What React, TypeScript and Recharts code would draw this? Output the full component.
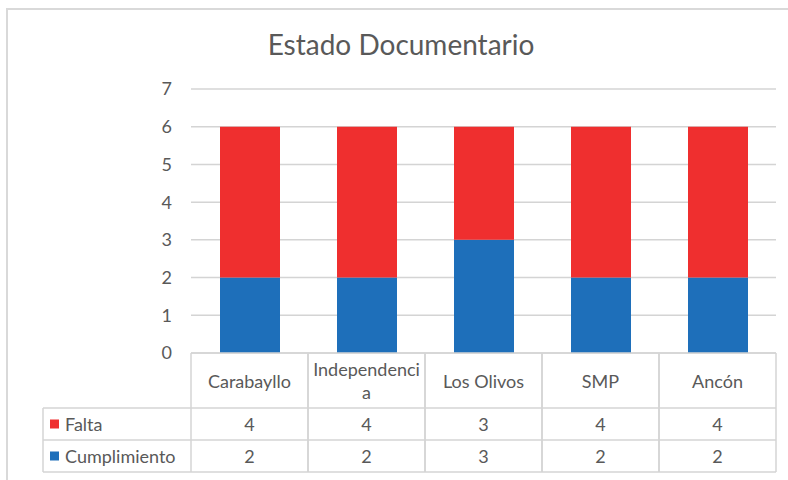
import React from 'react';
import { BarChart, Bar, XAxis, YAxis, CartesianGrid } from 'recharts';

const districts = ['Carabayllo', 'Independencia', 'Los Olivos', 'SMP', 'Ancón'];
const falta = [4, 4, 3, 4, 4];
const cumplimiento = [2, 2, 3, 2, 2];
const yTicks = [0, 1, 2, 3, 4, 5, 6, 7];

const RED = '#EF2F2F';
const BLUE = '#1E6FBA';
const TEXT = '#595959';
const LINE = '#D4D4D4';
const FONT = 'Lato, "Open Sans", sans-serif';

const W = 788;
const H = 480;
const margin = { top: 89, right: 12, left: 151, bottom: 7 };
const yAxisWidth = 40;
const plotLeft = margin.left + yAxisWidth;
const bandWidth = (W - plotLeft - margin.right) / districts.length;

// data table rows below the axis
const headerH = 55;
const rowH = 32;
const labelColLeft = 43;

const data = districts.map((name, i) => ({
  name,
  cumplimiento: cumplimiento[i],
  falta: falta[i],
}));

// excel wraps the long label by characters
function wrapLabel(label: string, max = 12) {
  if (label.length <= max) return [label];
  const out: string[] = [];
  for (let i = 0; i < label.length; i += max) out.push(label.slice(i, i + max));
  return out;
}

function TableTick(props: any) {
  const { x, y, payload, index } = props;
  const left = x - bandWidth / 2;
  const right = x + bandWidth / 2;
  const top = y;
  const r1 = top + headerH;
  const r2 = r1 + rowH;
  const r3 = r2 + rowH;
  const lines = wrapLabel(payload.value);
  const lh = 23;
  const startY = top + headerH / 2 - ((lines.length - 1) * lh) / 2;

  return (
    <g fontFamily={FONT} fontSize={18} fill={TEXT}>
      <line x1={left} x2={right} y1={top} y2={top} stroke={LINE} strokeWidth={1.5} />
      <line x1={left} x2={right} y1={r1} y2={r1} stroke={LINE} strokeWidth={1.5} />
      <line x1={left} x2={right} y1={r2} y2={r2} stroke={LINE} strokeWidth={1.5} />
      <line x1={left} x2={right} y1={r3} y2={r3} stroke={LINE} strokeWidth={1.5} />
      <line x1={left} x2={left} y1={top} y2={r3} stroke={LINE} strokeWidth={1.5} />
      <line x1={right} x2={right} y1={top} y2={r3} stroke={LINE} strokeWidth={1.5} />
      {lines.map((t, i) => (
        <text key={i} x={x} y={startY + i * lh} textAnchor="middle" dominantBaseline="central">
          {t}
        </text>
      ))}
      <text x={x} y={r1 + rowH / 2} textAnchor="middle" dominantBaseline="central">
        {falta[index]}
      </text>
      <text x={x} y={r2 + rowH / 2} textAnchor="middle" dominantBaseline="central">
        {cumplimiento[index]}
      </text>
      {index === 0 && (
        <g>
          <line x1={labelColLeft} x2={left} y1={r1} y2={r1} stroke={LINE} strokeWidth={1.5} />
          <line x1={labelColLeft} x2={left} y1={r2} y2={r2} stroke={LINE} strokeWidth={1.5} />
          <line x1={labelColLeft} x2={left} y1={r3} y2={r3} stroke={LINE} strokeWidth={1.5} />
          <line x1={labelColLeft} x2={labelColLeft} y1={r1} y2={r3} stroke={LINE} strokeWidth={1.5} />
          <rect x={labelColLeft + 7} y={r1 + rowH / 2 - 4.5} width={9} height={9} fill={RED} />
          <text x={labelColLeft + 22} y={r1 + rowH / 2} dominantBaseline="central">Falta</text>
          <rect x={labelColLeft + 7} y={r2 + rowH / 2 - 4.5} width={9} height={9} fill={BLUE} />
          <text x={labelColLeft + 22} y={r2 + rowH / 2} dominantBaseline="central">Cumplimiento</text>
        </g>
      )}
    </g>
  );
}

export default function App() {
  return (
    <div style={{ position: 'absolute', left: 0, top: 0, width: W, height: H, background: '#fff', overflow: 'hidden' }}>
      <div
        style={{
          position: 'absolute',
          left: 6,
          top: 8,
          width: W,
          height: H,
          border: '2px solid #D9D9D9',
          boxSizing: 'border-box',
        }}
      />
      <div
        style={{
          position: 'absolute',
          left: 0,
          top: 27,
          width: 802,
          textAlign: 'center',
          fontFamily: FONT,
          fontSize: 28,
          color: TEXT,
        }}
      >
        Estado Documentario
      </div>
      <div style={{ position: 'absolute', left: 0, top: 0 }}>
        <BarChart width={W} height={H} data={data} margin={margin} barSize={60}>
          <CartesianGrid vertical={false} stroke={LINE} strokeWidth={1.5} />
          <XAxis
            dataKey="name"
            axisLine={false}
            tickLine={false}
            tickSize={0}
            tickMargin={0}
            height={120}
            interval={0}
            tick={<TableTick />}
          />
          <YAxis
            domain={[0, 7]}
            ticks={yTicks}
            width={yAxisWidth}
            axisLine={false}
            tickLine={false}
            tickMargin={13}
            tick={{ fill: TEXT, fontSize: 18, fontFamily: FONT }}
          />
          <Bar dataKey="cumplimiento" stackId="a" fill={BLUE} isAnimationActive={false} />
          <Bar dataKey="falta" stackId="a" fill={RED} isAnimationActive={false} />
        </BarChart>
      </div>
    </div>
  );
}
